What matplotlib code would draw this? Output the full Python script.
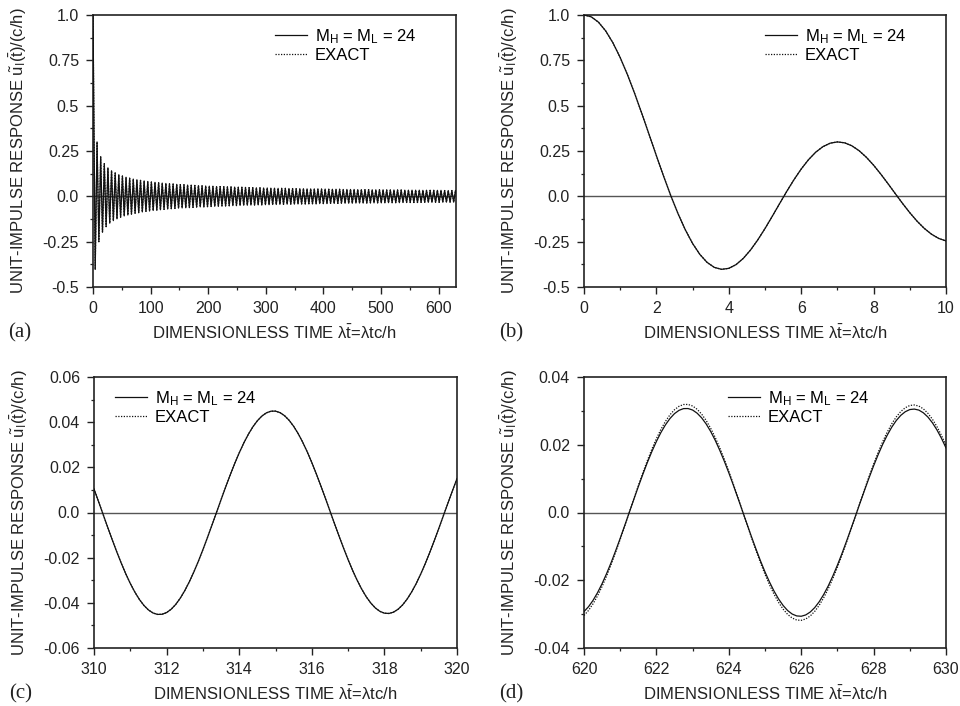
import matplotlib
matplotlib.use('Agg')
import matplotlib.pyplot as plt
from matplotlib.ticker import FixedLocator, FixedFormatter, MultipleLocator

plt.rcParams['font.family'] = ['Liberation Sans', 'DejaVu Sans']
plt.rcParams['mathtext.fontset'] = 'custom'
plt.rcParams['mathtext.rm'] = 'Liberation Sans'
plt.rcParams['mathtext.it'] = 'Liberation Sans'
plt.rcParams['mathtext.bf'] = 'Liberation Sans:bold'

# ---------------- data ----------------
# panel (a): extrema of the response over 0..630 (both curves coincide)
t_a = [0.0, 3.83, 7.02, 10.17, 13.32, 16.47, 19.62, 22.76, 25.90, 29.05,
       32.19, 35.34, 38.48, 41.63, 44.77, 47.91, 51.05, 54.19, 57.33, 60.48,
       63.62, 66.76, 69.90, 73.04, 76.18, 79.33, 82.47, 85.61, 88.75, 91.89,
       95.03, 98.17, 101.32, 104.46, 107.60, 110.74, 113.88, 117.02, 120.17, 123.31,
       126.45, 129.59, 132.73, 135.87, 139.02, 142.16, 145.30, 148.44, 151.58, 154.72,
       157.87, 161.01, 164.15, 167.29, 170.43, 173.57, 176.71, 179.86, 183.00, 186.14,
       189.28, 192.42, 195.56, 198.71, 201.85, 204.99, 208.13, 211.27, 214.41, 217.56,
       220.70, 223.84, 226.98, 230.12, 233.26, 236.41, 239.55, 242.69, 245.83, 248.97,
       252.11, 255.25, 258.40, 261.54, 264.68, 267.82, 270.96, 274.10, 277.25, 280.39,
       283.53, 286.67, 289.81, 292.95, 296.10, 299.24, 302.38, 305.52, 308.66, 311.80,
       314.94, 318.09, 321.23, 324.37, 327.51, 330.65, 333.79, 336.94, 340.08, 343.22,
       346.36, 349.50, 352.64, 355.79, 358.93, 362.07, 365.21, 368.35, 371.49, 374.63,
       377.78, 380.92, 384.06, 387.20, 390.34, 393.48, 396.63, 399.77, 402.91, 406.05,
       409.19, 412.33, 415.48, 418.62, 421.76, 424.90, 428.04, 431.18, 434.32, 437.47,
       440.61, 443.75, 446.89, 450.03, 453.17, 456.32, 459.46, 462.60, 465.74, 468.88,
       472.02, 475.17, 478.31, 481.45, 484.59, 487.73, 490.87, 494.01, 497.16, 500.30,
       503.44, 506.58, 509.72, 512.86, 516.01, 519.15, 522.29, 525.43, 528.57, 531.71,
       534.86, 538.00, 541.14, 544.28, 547.42, 550.56, 553.70, 556.85, 559.99, 563.13,
       566.27, 569.41, 572.55, 575.70, 578.84, 581.98, 585.12, 588.26, 591.40, 594.55,
       597.69, 600.83, 603.97, 607.11, 610.25, 613.39, 616.54, 619.68, 622.82, 625.96,
       629.10, 630.0]
u_a = [1.0, -0.403, 0.300, -0.250, 0.218, -0.197, 0.180, -0.167, 0.157, -0.148,
       0.141, -0.134, 0.129, -0.124, 0.119, -0.115, 0.112, -0.108, 0.105, -0.103,
       0.100, -0.098, 0.095, -0.093, 0.091, -0.090, 0.088, -0.086, 0.085, -0.083,
       0.082, -0.081, 0.079, -0.078, 0.077, -0.076, 0.075, -0.074, 0.073, -0.072,
       0.071, -0.070, 0.069, -0.068, 0.068, -0.067, 0.066, -0.065, 0.065, -0.064,
       0.064, -0.063, 0.062, -0.062, 0.061, -0.061, 0.060, -0.059, 0.059, -0.058,
       0.058, -0.058, 0.057, -0.057, 0.056, -0.056, 0.055, -0.055, 0.054, -0.054,
       0.054, -0.053, 0.053, -0.053, 0.052, -0.052, 0.052, -0.051, 0.051, -0.051,
       0.050, -0.050, 0.050, -0.049, 0.049, -0.049, 0.048, -0.048, 0.048, -0.048,
       0.047, -0.047, 0.047, -0.047, 0.046, -0.046, 0.046, -0.046, 0.045, -0.045,
       0.045, -0.045, 0.044, -0.044, 0.044, -0.044, 0.044, -0.043, 0.043, -0.043,
       0.043, -0.043, 0.042, -0.042, 0.042, -0.042, 0.042, -0.042, 0.041, -0.041,
       0.041, -0.041, 0.041, -0.041, 0.040, -0.040, 0.040, -0.040, 0.040, -0.040,
       0.039, -0.039, 0.039, -0.039, 0.039, -0.039, 0.039, -0.038, 0.038, -0.038,
       0.038, -0.038, 0.038, -0.038, 0.038, -0.037, 0.037, -0.037, 0.037, -0.037,
       0.037, -0.037, 0.037, -0.036, 0.036, -0.036, 0.036, -0.036, 0.036, -0.036,
       0.036, -0.035, 0.035, -0.035, 0.035, -0.035, 0.035, -0.035, 0.035, -0.035,
       0.035, -0.034, 0.034, -0.034, 0.034, -0.034, 0.034, -0.034, 0.034, -0.034,
       0.034, -0.033, 0.033, -0.033, 0.033, -0.033, 0.033, -0.033, 0.033, -0.033,
       0.033, -0.033, 0.033, -0.032, 0.032, -0.032, 0.032, -0.032, 0.032, -0.032,
       0.032, 0.020]

# panel (b): 0..10, step 0.2 (both curves coincide)
t_b = [0.0, 0.2, 0.4, 0.6, 0.8, 1.0, 1.2, 1.4, 1.6, 1.8,
       2.0, 2.2, 2.4, 2.6, 2.8, 3.0, 3.2, 3.4, 3.6, 3.8,
       4.0, 4.2, 4.4, 4.6, 4.8, 5.0, 5.2, 5.4, 5.6, 5.8,
       6.0, 6.2, 6.4, 6.6, 6.8, 7.0, 7.2, 7.4, 7.6, 7.8,
       8.0, 8.2, 8.4, 8.6, 8.8, 9.0, 9.2, 9.4, 9.6, 9.8, 10.0]
u_b = [1.0, 0.9900, 0.9604, 0.9120, 0.8463, 0.7652, 0.6711, 0.5669, 0.4554, 0.3400,
       0.2239, 0.1104, 0.0025, -0.0968, -0.1850, -0.2601, -0.3202, -0.3643, -0.3918, -0.4026,
       -0.3971, -0.3766, -0.3423, -0.2961, -0.2404, -0.1776, -0.1103, -0.0412, 0.0270, 0.0917,
       0.1506, 0.2017, 0.2433, 0.2740, 0.2931, 0.3001, 0.2951, 0.2786, 0.2516, 0.2154,
       0.1717, 0.1222, 0.0692, 0.0146, -0.0392, -0.0903, -0.1368, -0.1768, -0.2090, -0.2323, -0.2459]

# panel (c): 310..320, read every 0.125 (both curves coincide)
t_c = [310.0, 310.125, 310.25, 310.375, 310.5, 310.625, 310.75, 310.875, 311.0, 311.125,
       311.25, 311.375, 311.5, 311.625, 311.75, 311.875, 312.0, 312.125, 312.25, 312.375,
       312.5, 312.625, 312.75, 312.875, 313.0, 313.125, 313.25, 313.375, 313.5, 313.625,
       313.75, 313.875, 314.0, 314.125, 314.25, 314.375, 314.5, 314.625, 314.75, 314.875,
       315.0, 315.125, 315.25, 315.375, 315.5, 315.625, 315.75, 315.875, 316.0, 316.125,
       316.25, 316.375, 316.5, 316.625, 316.75, 316.875, 317.0, 317.125, 317.25, 317.375,
       317.5, 317.625, 317.75, 317.875, 318.0, 318.125, 318.25, 318.375, 318.5, 318.625,
       318.75, 318.875, 319.0, 319.125, 319.25, 319.375, 319.5, 319.625, 319.75, 319.875, 320.0]
u_c = [0.01043, 0.00485, -0.00080, -0.00644, -0.01198, -0.01733, -0.02240, -0.02713, -0.03144, -0.03523,
       -0.03850, -0.04114, -0.04315, -0.04449, -0.04513, -0.04507, -0.04431, -0.04285, -0.04073, -0.03797,
       -0.03461, -0.03072, -0.02636, -0.02159, -0.01647, -0.01111, -0.00557, 0.00005, 0.00567, 0.01120,
       0.01655, 0.02164, 0.02639, 0.03073, 0.03458, 0.03790, 0.04062, 0.04271, 0.04413, 0.04486,
       0.04489, 0.04422, 0.04286, 0.04083, 0.03817, 0.03492, 0.03111, 0.02683, 0.02213, 0.01709,
       0.01177, 0.00628, 0.00070, -0.00490, -0.01042, -0.01577, -0.02088, -0.02565, -0.03003, -0.03393,
       -0.03732, -0.04009, -0.04226, -0.04377, -0.04458, -0.04471, -0.04413, -0.04287, -0.04094, -0.03837,
       -0.03520, -0.03150, -0.02728, -0.02265, -0.01769, -0.01243, -0.00698, -0.00143, 0.00414, 0.00964, 0.01500]

# panel (d): 620..630, read every 0.125
t_d = [620.0, 620.125, 620.25, 620.375, 620.5, 620.625, 620.75, 620.875, 621.0, 621.125,
       621.25, 621.375, 621.5, 621.625, 621.75, 621.875, 622.0, 622.125, 622.25, 622.375,
       622.5, 622.625, 622.75, 622.875, 623.0, 623.125, 623.25, 623.375, 623.5, 623.625,
       623.75, 623.875, 624.0, 624.125, 624.25, 624.375, 624.5, 624.625, 624.75, 624.875,
       625.0, 625.125, 625.25, 625.375, 625.5, 625.625, 625.75, 625.875, 626.0, 626.125,
       626.25, 626.375, 626.5, 626.625, 626.75, 626.875, 627.0, 627.125, 627.25, 627.375,
       627.5, 627.625, 627.75, 627.875, 628.0, 628.125, 628.25, 628.375, 628.5, 628.625,
       628.75, 628.875, 629.0, 629.125, 629.25, 629.375, 629.5, 629.625, 629.75, 629.875, 630.0]
u_d_exact = [-0.03040, -0.02891, -0.02695, -0.02458, -0.02183, -0.01873, -0.01535, -0.01172, -0.00792, -0.00399,
             0.00000, 0.00399, 0.00792, 0.01172, 0.01534, 0.01871, 0.02180, 0.02455, 0.02690, 0.02885,
             0.03034, 0.03135, 0.03188, 0.03190, 0.03144, 0.03048, 0.02904, 0.02716, 0.02485, 0.02215,
             0.01910, 0.01577, 0.01219, 0.00841, 0.00450, 0.00053, -0.00345, -0.00738, -0.01119, -0.01483,
             -0.01823, -0.02135, -0.02413, -0.02654, -0.02852, -0.03008, -0.03115, -0.03174, -0.03184, -0.03143,
             -0.03054, -0.02917, -0.02735, -0.02509, -0.02246, -0.01946, -0.01616, -0.01263, -0.00888, -0.00501,
             -0.00105, 0.00292, 0.00684, 0.01066, 0.01431, 0.01773, 0.02089, 0.02370, 0.02616, 0.02820,
             0.02980, 0.03093, 0.03159, 0.03174, 0.03142, 0.03059, 0.02929, 0.02753, 0.02534, 0.02276, 0.01982]
u_d_m24 = [-0.02925, -0.02781, -0.02593, -0.02365, -0.02100, -0.01802, -0.01477, -0.01127, -0.00762, -0.00384,
           0.00000, 0.00384, 0.00762, 0.01127, 0.01476, 0.01800, 0.02097, 0.02362, 0.02588, 0.02775,
           0.02919, 0.03016, 0.03067, 0.03069, 0.03025, 0.02932, 0.02794, 0.02613, 0.02391, 0.02131,
           0.01837, 0.01517, 0.01173, 0.00809, 0.00433, 0.00051, -0.00332, -0.00710, -0.01076, -0.01427,
           -0.01754, -0.02054, -0.02321, -0.02553, -0.02744, -0.02894, -0.02997, -0.03053, -0.03063, -0.03024,
           -0.02938, -0.02806, -0.02631, -0.02414, -0.02161, -0.01872, -0.01555, -0.01215, -0.00854, -0.00482,
           -0.00101, 0.00281, 0.00658, 0.01025, 0.01377, 0.01706, 0.02010, 0.02280, 0.02517, 0.02713,
           0.02867, 0.02975, 0.03039, 0.03053, 0.03023, 0.02943, 0.02818, 0.02648, 0.02438, 0.02190, 0.01907]

series_labels = [r'M$_\mathregular{H}$ = M$_\mathregular{L}$ = 24', 'EXACT']
panel_letters = ['(a)', '(b)', '(c)', '(d)']

yt_ab = [-0.5, -0.25, 0.0, 0.25, 0.5, 0.75, 1.0]
yl_ab = ['-0.5', '-0.25', '0.0', '0.25', '0.5', '0.75', '1.0']
yt_c = [-0.06, -0.04, -0.02, 0.0, 0.02, 0.04, 0.06]
yl_c = ['-0.06', '-0.04', '-0.02', '0.0', '0.02', '0.04', '0.06']
yt_d = [-0.04, -0.02, 0.0, 0.02, 0.04]
yl_d = ['-0.04', '-0.02', '0.0', '0.02', '0.04']

ylabel_text = r'UNIT-IMPULSE RESPONSE $\tilde{\mathregular{u}}_\mathregular{I}(\bar{\mathregular{t}})$/(c/h)'
xlabel_text = r'DIMENSIONLESS TIME $\lambda\bar{\mathregular{t}}$=$\lambda$tc/h'

# ---------------- figure ----------------
W, H = 960, 706
fig = plt.figure(figsize=(W / 100, H / 100), dpi=100)

def axes_px(l, t, r, b):
    return fig.add_axes([l / W, 1 - b / H, (r - l) / W, (b - t) / H])

boxes = [(93, 15, 456, 287), (584, 15, 946, 287), (94, 377, 457, 648), (584, 377, 946, 648)]
axs = [axes_px(*b) for b in boxes]

solid_kw = dict(color='#111111', lw=0.9, ls='-', solid_joinstyle='round')
dot_kw = dict(color='#111111', lw=0.9, ls=(0, (1.0, 1.2)))

data = [
    (t_a, u_a, u_a),
    (t_b, u_b, u_b),
    (t_c, u_c, u_c),
    (t_d, u_d_m24, u_d_exact),
]
xlims = [(0, 630), (0, 10), (310, 320), (620, 630)]
xmaj = [100, 2, 2, 2]
xmin = [50, 1, 1, 1]
ylims = [(-0.5, 1.0), (-0.5, 1.0), (-0.06, 0.06), (-0.04, 0.04)]
yticks = [(yt_ab, yl_ab), (yt_ab, yl_ab), (yt_c, yl_c), (yt_d, yl_d)]
ymin = [0.125, 0.125, 0.01, 0.01]
leg_anchor = [(0.501, 0.955), (0.50, 0.955), (0.058, 0.955), (0.398, 0.955)]

for i, ax in enumerate(axs):
    t, um, ue = data[i]
    ax.axhline(0, color='#555555', lw=1.0, zorder=1)
    l1, = ax.plot(t, um, **solid_kw, zorder=3)
    l2, = ax.plot(t, ue, **dot_kw, zorder=4)
    ax.set_xlim(*xlims[i])
    ax.set_ylim(*ylims[i])
    ax.xaxis.set_major_locator(MultipleLocator(xmaj[i]))
    ax.xaxis.set_minor_locator(MultipleLocator(xmin[i]))
    yt, yl = yticks[i]
    ax.yaxis.set_major_locator(FixedLocator(yt))
    ax.yaxis.set_major_formatter(FixedFormatter(yl))
    ax.yaxis.set_minor_locator(MultipleLocator(ymin[i]))
    ax.tick_params(which='major', direction='out', length=5, width=1.0, labelsize=11.5,
                   pad=5, colors='#222222')
    ax.tick_params(which='minor', direction='out', length=2.5, width=0.9, colors='#222222')
    ax.tick_params(top=False, right=False, which='both')
    for s in ax.spines.values():
        s.set_linewidth(1.2)
        s.set_color('#222222')
    ax.legend([l1, l2], series_labels, loc='upper left', bbox_to_anchor=leg_anchor[i],
              frameon=False, fontsize=12, handlelength=1.9, handletextpad=0.5,
              labelspacing=0.1, borderpad=0, borderaxespad=0)

    l, tp, r, b = boxes[i]
    cx = (l + r) / 2
    cy = (tp + b) / 2
    fig.text((l - 75) / W, 1 - cy / H, ylabel_text, rotation=90, ha='center', va='center',
             fontsize=12, color='#222222')
    fig.text(cx / W, 1 - (b + 46) / H, xlabel_text, ha='center', va='center',
             fontsize=12, color='#222222')
    fig.text((l - 85) / W, 1 - (b + 46) / H, panel_letters[i], ha='left', va='center',
             fontsize=15, family='Liberation Serif', color='#222222')

fig.savefig('out.png', dpi=100)
